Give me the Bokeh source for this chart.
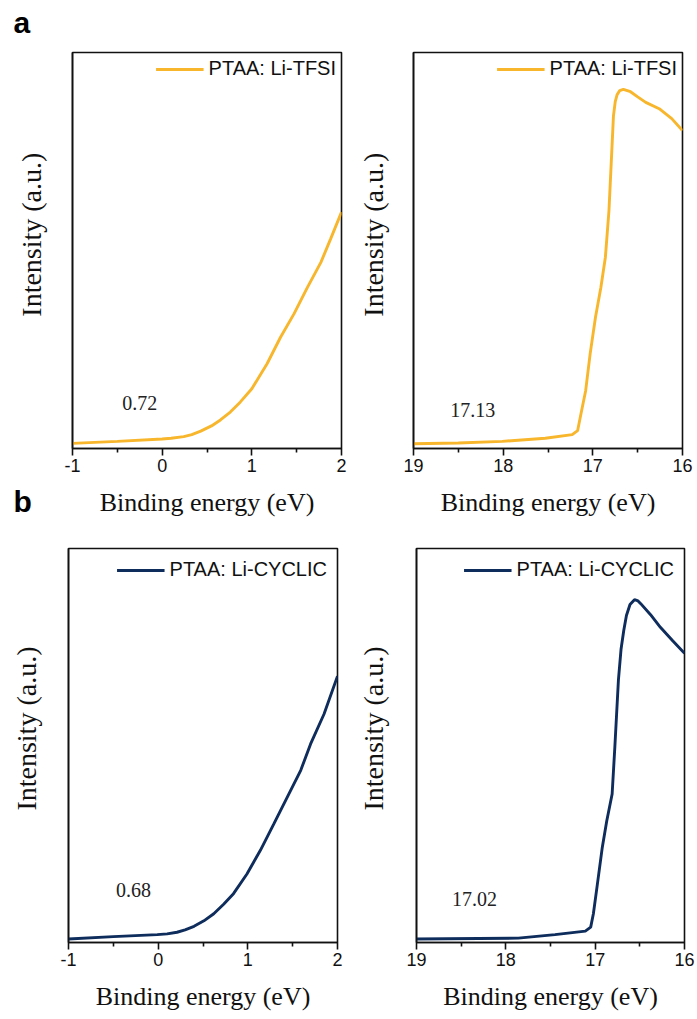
import math
from bokeh.plotting import figure
from bokeh.layouts import column, row
from bokeh.models import Range1d, FixedTicker, Legend, LegendItem, Label
from bokeh.embed import file_html
from bokeh.resources import INLINE

# ---------------- data ----------------
# (a) PTAA: Li-TFSI, valence-band onset region
tfsi_vb_x = [-1.0, -0.5, 0.0, 0.1, 0.24, 0.33, 0.43, 0.55, 0.65, 0.76, 0.87, 1.0, 1.17, 1.32, 1.47, 1.62, 1.77, 1.88, 2.0]
tfsi_vb_y = [1.3, 1.8, 2.4, 2.6, 3.0, 3.5, 4.4, 5.7, 7.2, 9.2, 11.7, 15.1, 21.4, 28.1, 34.0, 40.7, 47.0, 53.0, 59.7]
# (a) PTAA: Li-TFSI, secondary-electron cutoff
tfsi_cut_x = [19.0, 18.5, 18.01, 17.53, 17.23, 17.17, 17.14, 17.08, 17.03, 16.97, 16.91, 16.86,
              16.82, 16.79, 16.77, 16.75, 16.73, 16.70, 16.66, 16.58, 16.50, 16.41, 16.26, 16.12, 16.0]
tfsi_cut_y = [1.2, 1.4, 1.8, 2.6, 3.5, 4.5, 7.9, 14.6, 23.9, 33.2, 40.7, 48.3,
              60.1, 74.4, 84.0, 87.6, 89.3, 90.4, 90.7, 90.1, 88.8, 87.4, 85.8, 83.3, 80.3]
# (b) PTAA: Li-CYCLIC, valence-band onset region
cyc_vb_x = [-1.0, -0.5, -0.01, 0.1, 0.21, 0.30, 0.40, 0.51, 0.62, 0.73, 0.84, 0.99, 1.14, 1.29, 1.44, 1.59, 1.70, 1.85, 2.0]
cyc_vb_y = [0.9, 1.5, 2.0, 2.2, 2.6, 3.2, 4.1, 5.5, 7.3, 9.7, 12.4, 17.4, 23.4, 30.1, 36.9, 43.7, 50.4, 58.0, 67.6]
# (b) PTAA: Li-CYCLIC, secondary-electron cutoff
cyc_cut_x = [19.0, 17.86, 17.45, 17.11, 17.05, 17.02, 16.98, 16.92, 16.87, 16.81, 16.78, 16.74,
             16.71, 16.68, 16.65, 16.61, 16.56, 16.52, 16.49, 16.38, 16.27, 16.14, 16.0]
cyc_cut_y = [0.9, 1.1, 2.0, 2.9, 3.9, 7.3, 14.0, 24.2, 30.9, 37.7, 49.5, 66.5,
             74.5, 79.2, 83.0, 85.8, 87.0, 86.7, 86.0, 83.2, 80.0, 76.8, 73.4]

series_names = ["PTAA: Li-TFSI", "PTAA: Li-CYCLIC"]
onset_texts = ["0.72", "17.13", "0.68", "17.02"]
vb_ticks = [-1, 0, 1, 2]
vb_minor = [-0.5, 0.5, 1.5]
cut_ticks = [19, 18, 17, 16]
cut_minor = [18.5, 17.5, 16.5]
panel_letters = ["a", "b"]
x_title = "Binding energy (eV)"
y_title = "Intensity (a.u.)"

ORANGE = "#F7B62C"
NAVY = "#0E2C5C"
SANS = "Liberation Sans"
SERIF = "Liberation Serif"


def make_panel(xs, ys, color, name, xr, ticks, minor, borders, fw, fh, leg_margin,
               onset, onset_xy, ylab_xy):
    bl, br, bt, bb = borders
    p = figure(x_range=Range1d(*xr), y_range=Range1d(0, 100),
               frame_width=fw, frame_height=fh,
               min_border_left=bl, min_border_right=br,
               min_border_top=bt, min_border_bottom=bb,
               output_backend="svg", toolbar_location=None,
               background_fill_color="white", border_fill_color="white")
    p.xgrid.visible = False
    p.ygrid.visible = False
    p.outline_line_color = "#111111"
    p.outline_line_width = 1.6
    p.outline_line_alpha = 1.0

    r = p.line(xs, ys, line_color=color, line_width=2.9)

    xa = p.xaxis[0]
    xa.ticker = FixedTicker(ticks=ticks, minor_ticks=minor)
    xa.major_label_overrides = {t: str(t) for t in ticks}
    xa.axis_line_color = "#111111"
    xa.axis_line_width = 1.6
    xa.major_tick_line_color = "#111111"
    xa.major_tick_line_width = 1.6
    xa.minor_tick_line_color = "#111111"
    xa.minor_tick_line_width = 1.6
    xa.major_tick_in = 0
    xa.major_tick_out = 7
    xa.minor_tick_in = 0
    xa.minor_tick_out = 4
    xa.major_label_text_font = SANS
    xa.major_label_text_font_size = "18px"
    xa.major_label_text_color = "#111111"
    xa.major_label_standoff = 3
    xa.axis_label = x_title
    xa.axis_label_text_font = SERIF
    xa.axis_label_text_font_size = "26px"
    xa.axis_label_text_font_style = "normal"
    xa.axis_label_text_color = "#111111"
    xa.axis_label_standoff = 13

    ya = p.yaxis[0]
    ya.ticker = FixedTicker(ticks=[])
    ya.axis_line_color = "#111111"
    ya.axis_line_width = 1.6
    ya.major_tick_out = 0
    ya.major_tick_in = 0
    ya.minor_tick_out = 0
    ya.minor_tick_in = 0
    ya.major_label_standoff = 0
    ya.axis_label_standoff = 0

    # y-axis title (sits a little above the frame centre, as in the original)
    p.add_layout(Label(x=ylab_xy[0], y=ylab_xy[1], text=y_title, angle=math.pi / 2,
                       text_font=SERIF, text_font_size="28px",
                       text_color="#111111", text_align="center",
                       text_baseline="middle"), "left")

    legend = Legend(items=[LegendItem(label=name, renderers=[r])],
                    location="top_right", border_line_color=None,
                    background_fill_alpha=0.0,
                    label_text_font=SANS, label_text_font_size="20px",
                    label_text_color="#111111",
                    glyph_width=48, glyph_height=20, label_height=20,
                    label_standoff=5, margin=leg_margin, padding=0, spacing=0)
    p.add_layout(legend)

    p.add_layout(Label(x=onset_xy[0], y=onset_xy[1], text=onset,
                       text_font=SERIF, text_font_size="20px",
                       text_color="#222222", text_align="center",
                       text_baseline="middle"))
    return p


pa1 = make_panel(tfsi_vb_x, tfsi_vb_y, ORANGE, series_names[0], (-1, 2),
                 vb_ticks, vb_minor, (72, 11, 52, 80), 269, 396, 5,
                 onset_texts[0], (-0.25, 11.6), (-1.457, 54.0))
pa2 = make_panel(tfsi_cut_x, tfsi_cut_y, ORANGE, series_names[0], (19, 16),
                 cut_ticks, cut_minor, (61, 15, 52, 80), 269, 396, 5,
                 onset_texts[1], (18.34, 9.6), (19.446, 54.0))
pb1 = make_panel(cyc_vb_x, cyc_vb_y, NAVY, series_names[1], (-1, 2),
                 vb_ticks, vb_minor, (68, 15, 20, 75), 269, 394, 10,
                 onset_texts[2], (-0.275, 13.2), (-1.468, 54.3))
pb2 = make_panel(cyc_cut_x, cyc_cut_y, NAVY, series_names[1], (19, 16),
                 cut_ticks, cut_minor, (64, 13, 20, 75), 268, 394, 10,
                 onset_texts[3], (18.35, 11.1), (19.481, 54.3))

# panel letters, drawn from the top-left panel's side areas
pa1.add_layout(Label(x=-1.658, y=107.7, text=panel_letters[0], text_font=SANS,
                     text_font_size="30px", text_font_style="bold",
                     text_color="#000000", text_baseline="middle"), "above")
pa1.add_layout(Label(x=-1.658, y=-13.3, text=panel_letters[1], text_font=SANS,
                     text_font_size="30px", text_font_style="bold",
                     text_color="#000000", text_baseline="middle"), "left")

layout = column(row(pa1, pa2), row(pb1, pb2))

open("out.html", "w").write(file_html(layout, INLINE))
